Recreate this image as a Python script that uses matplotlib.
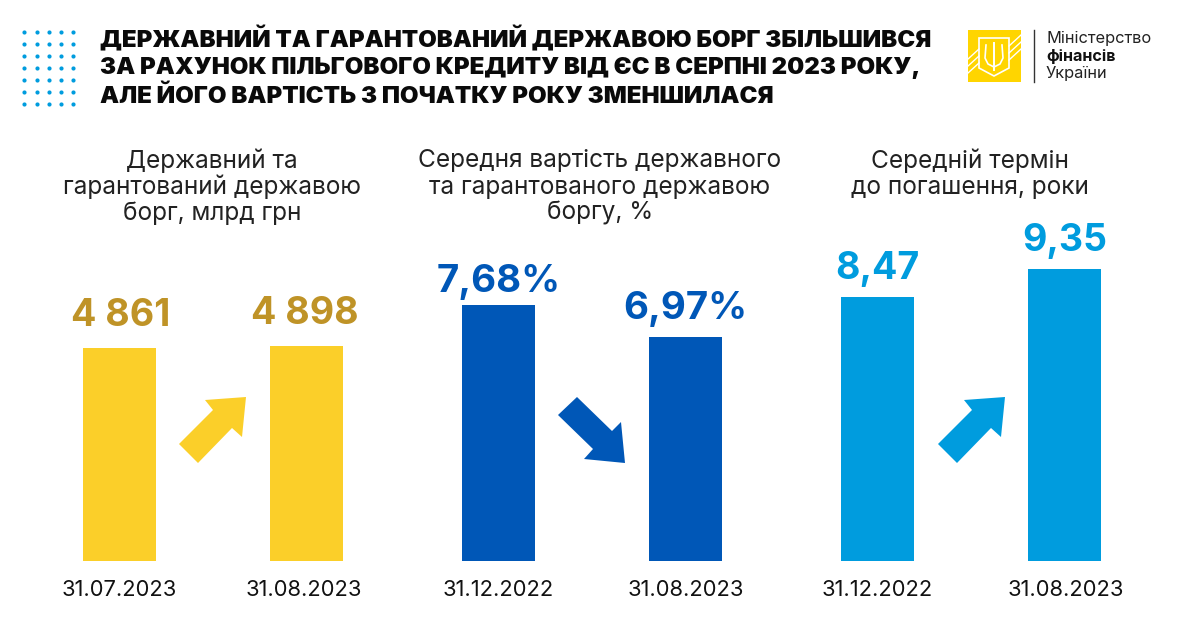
import matplotlib
matplotlib.use('Agg')
import matplotlib.pyplot as plt
from matplotlib.patches import Polygon, Rectangle

W, H = 1182, 632

plt.rcParams['font.family'] = ['Inter', 'DejaVu Sans']

# Дані
title_lines = ['ДЕРЖАВНИЙ ТА ГАРАНТОВАНИЙ ДЕРЖАВОЮ БОРГ ЗБІЛЬШИВСЯ',
               'ЗА РАХУНОК ПІЛЬГОВОГО КРЕДИТУ ВІД ЄС В СЕРПНІ 2023 РОКУ,',
               'АЛЕ ЙОГО ВАРТІСТЬ З ПОЧАТКУ РОКУ ЗМЕНШИЛАСЯ']

debt_dates = ['31.07.2023', '31.08.2023']
debt_values = [4861, 4898]
debt_labels = ['4 861', '4 898']
debt_title = ['Державний та', 'гарантований державою', 'борг, млрд грн']

cost_dates = ['31.12.2022', '31.08.2023']
cost_values = [7.68, 6.97]
cost_labels = ['7,68%', '6,97%']
cost_title = ['Середня вартість державного', 'та гарантованого державою', 'боргу, %']

term_dates = ['31.12.2022', '31.08.2023']
term_values = [8.47, 9.35]
term_labels = ['8,47', '9,35']
term_title = ['Середній термін', 'до погашення, роки']

GOLD_BAR = '#FBCF29'
GOLD_TXT = '#BF9327'
BLUE = '#0057B7'
SKY = '#009CDE'

fig = plt.figure(figsize=(W / 100, H / 100), dpi=100, facecolor='white')

# Шар у пікселях для оформлення
bg = fig.add_axes([0, 0, 1, 1])
bg.set_xlim(0, W)
bg.set_ylim(H, 0)
bg.axis('off')


def panel(center0, values, labels, dates, color, txt_color, ymin, ymax, label_fs, offsets,
          x_nudge=(0, 0), date_x=(0, 0)):
    # вісь: стовпчики на 0 і 1, крок 187 px, низ на y=561
    left = center0 - 93.5
    top_px = 220
    base_px = 561
    ax = fig.add_axes([left / W, 1 - base_px / H, 374 / W, (base_px - top_px) / H])
    ax.set_xlim(-0.5, 1.5)
    ax.set_ylim(ymin, ymax)
    ax.axis('off')
    ax.bar([0, 1], values, width=73 / 187, color=color)
    for i, v in enumerate(values):
        ax.annotate(labels[i], (i, v), xytext=(x_nudge[i], offsets[i]), textcoords='offset pixels',
                    ha='center', va='bottom', fontsize=label_fs, fontweight='bold',
                    color=txt_color, annotation_clip=False)
        bg.text(center0 + 187 * i + date_x[i], 590, dates[i], ha='center', va='center',
                fontsize=15.8, color='#111111')


# шкали підібрані так, щоб висоти збігались з оригіналом
panel(119.5, debt_values, debt_labels, debt_dates, GOLD_BAR, GOLD_TXT, 0, 4861 * 341 / 213, 27,
      (14, 14), (1, -2), (0, -2.5))
panel(498.5, cost_values, cost_labels, cost_dates, BLUE, BLUE, 2.0, 2.0 + 341 / 45.07, 27.7,
      (5, 10), (0, 0), (0, 0))
panel(877.5, term_values, term_labels, term_dates, SKY, SKY, 0.17, 0.17 + 341 / 31.8, 27,
      (10, 10), (0, 0), (0, 1.5))

# Заголовок
for i, line in enumerate(title_lines):
    bg.text(100, 39 + 29 * i, line, fontsize=17.3, fontweight='black', color='#0A0A0A',
            ha='left', va='center')

# Підзаголовки панелей
for cx, lines in [(212, debt_title), (600, cost_title), (969.5, term_title)]:
    for i, line in enumerate(lines):
        bg.text(cx, 161 + 26.2 * i, line, fontsize=17.6, color='#222222', ha='center', va='center')

# Точки зліва вгорі
dot_x = [24, 36.5, 49, 61, 73]
dot_y = [32, 44, 56, 68, 80, 92, 104]
bg.scatter([x for x in dot_x for _ in dot_y], [y for _ in dot_x for y in dot_y],
           s=9, color=SKY, linewidths=0)

# Стрілки
arrow_up = [(179, 444), (213, 410), (205, 400), (246, 397), (242, 437), (232, 428), (198, 463)]
arrow_up2 = [(x + 759, y) for x, y in arrow_up]
arrow_down = [(558, 415), (577, 397), (612, 431), (621, 422), (625, 463), (584, 459), (593, 449)]
bg.add_patch(Polygon(arrow_up, closed=True, color=GOLD_BAR, lw=0))
bg.add_patch(Polygon(arrow_up2, closed=True, color=SKY, lw=0))
bg.add_patch(Polygon(arrow_down, closed=True, color=BLUE, lw=0))

# Логотип
bg.add_patch(Rectangle((968, 30), 53, 52, color='#FFD500', lw=0))
for dy in (0, 7, 14):
    bg.plot([1009, 1021], [46 + dy, 35 + dy], color='white', lw=1)
    bg.plot([968, 979], [59 + dy, 49 + dy], color='white', lw=1)
bg.add_patch(Polygon([(979, 38), (1009, 38), (1009, 68), (994, 76), (979, 68)], closed=True,
                     facecolor='#FFD500', edgecolor='white', lw=1.2))
bg.plot([994, 994], [43, 70], color='white', lw=1.4)
bg.plot([986, 985, 988, 994, 1000, 1003, 1002], [45, 58, 64, 67, 64, 58, 45], color='white', lw=1.2)
bg.plot([1034, 1034], [30, 82], color='#333333', lw=1)
bg.text(1046, 38.5, 'Міністерство', fontsize=11.8, color='#222222', va='center')
bg.text(1046, 56, 'фінансів', fontsize=11.6, fontweight='bold', color='#111111', va='center')
bg.text(1046, 73.5, 'України', fontsize=11.8, color='#222222', va='center')

fig.savefig('out.png', dpi=100)
